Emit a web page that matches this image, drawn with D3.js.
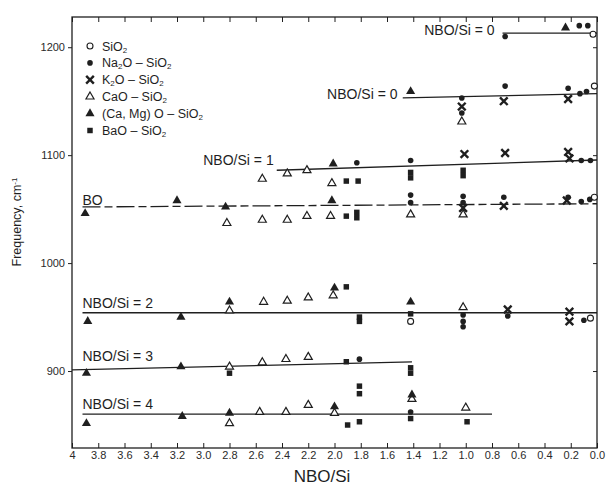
<!DOCTYPE html>
<html>
<head>
<meta charset="utf-8">
<script src="https://cdn.jsdelivr.net/npm/d3@7"></script>
<style>
body { margin: 0; background: #fff; }
svg { display: block; font-family: "Liberation Sans", Arial, Helvetica, sans-serif; }
</style>
</head>
<body>
<div id="chart"></div>
<script>

// Axis ticks
var xTickValues = [4, 3.8, 3.6, 3.4, 3.2, 3.0, 2.8, 2.6, 2.4, 2.2, 2.0, 1.8, 1.6, 1.4, 1.2, 1.0, 0.8, 0.6, 0.4, 0.2, 0];
var xTickLabels = ["4", "3.8", "3.6", "3.4", "3.2", "3.0", "2.8", "2.6", "2.4", "2.2", "2.0", "1.8", "1.6", "1.4", "1.2", "1.0", "0.8", "0.6", "0.4", "0.2", "0.0"];
var yTickValues = [900, 1000, 1100, 1200];
var yTickLabels = ["900", "1000", "1100", "1200"];

// Measured bands, [NBO/Si, frequency]
var sio2Points = [[0.03, 1212], [0.02, 1164], [0.02, 1061], [0.05, 949], [1.42, 946]];

var na2oPoints = [[0.70, 1210], [0.135, 1220], [0.07, 1220],
	[0.70, 1164], [0.22, 1162], [0.13, 1157], [0.08, 1159], [1.03, 1153], [1.03, 1139],
	[1.83, 1093], [1.42, 1095], [0.12, 1095], [0.05, 1095],
	[1.42, 1063], [1.42, 1056], [1.02, 1062], [1.02, 1056], [0.71, 1061], [0.22, 1061], [0.12, 1057], [0.055, 1059],
	[1.02, 952], [1.02, 946], [1.02, 941], [0.68, 951], [0.10, 947],
	[1.81, 911], [1.42, 862]];

var k2oPoints = [[1.03, 1145], [0.71, 1150], [0.22, 1152],
	[1.01, 1101], [0.70, 1102], [0.22, 1103], [0.21, 1097],
	[1.02, 1051], [0.71, 1053], [0.23, 1058],
	[0.68, 957], [0.21, 955], [0.21, 946]];

var caoPoints = [[1.03, 1131],
	[2.55, 1078], [2.36, 1083], [2.21, 1086], [2.02, 1074],
	[2.82, 1037], [2.55, 1040], [2.36, 1040], [2.21, 1043.5], [2.03, 1043.5], [1.42, 1045], [1.02, 1045],
	[2.80, 956], [2.54, 964], [2.36, 965], [2.20, 968], [2.01, 970], [1.02, 959],
	[2.80, 904], [2.55, 908], [2.37, 911], [2.20, 913], [1.41, 874],
	[2.80, 851.5], [2.57, 862], [2.37, 862], [2.20, 868.5], [2.00, 861], [1.00, 866]];

var camgPoints = [[0.24, 1218], [1.42, 1159], [2.01, 1092],
	[3.90, 1046], [3.20, 1058], [2.83, 1052], [2.02, 1058],
	[3.88, 946], [3.17, 950], [2.80, 964], [2.00, 977], [1.42, 964],
	[3.89, 898], [3.17, 904], [1.41, 878],
	[3.89, 851.5], [3.16, 858], [2.80, 861], [2.00, 867]];

var baoPoints = [[1.91, 1076], [1.82, 1076], [1.42, 1084], [1.42, 1079], [1.02, 1086], [1.02, 1081],
	[1.91, 1043.5], [1.83, 1047], [1.83, 1042],
	[1.91, 978], [1.81, 950], [1.81, 946], [1.42, 953],
	[2.80, 898], [1.91, 908.6], [1.42, 903], [1.42, 898], [1.81, 886], [1.81, 879],
	[1.90, 850], [1.81, 853], [1.42, 856], [0.99, 853]];

// Trend lines [x1, y1, x2, y2]
var lineQ0a = [0.72, 1213, 0, 1213];
var lineQ0b = [1.48, 1153, 0, 1157];
var lineQ1 = [2.44, 1086, 0, 1095.5];
var lineBO = [3.92, 1052, 0, 1055];
var lineQ2 = [3.92, 954, 0, 954];
var lineQ3 = [4, 901, 1.41, 908.5];
var lineQ4 = [3.92, 860, 0.80, 860];

// Line labels [text, x, y, anchor]
var lineLabels = [
	["NBO/Si = 0", 0.78, 1211, "end"],
	["NBO/Si = 0", 1.52, 1152, "end"],
	["NBO/Si = 1", 3.0, 1090.5, "start"],
	["BO", 3.92, 1054, "start"],
	["NBO/Si = 2", 3.92, 958, "start"],
	["NBO/Si = 3", 3.92, 909, "start"],
	["NBO/Si = 4", 3.92, 864.5, "start"]
];

var legendLabels = ["SiO{2}", "Na{2}O – SiO{2}", "K{2}O – SiO{2}", "CaO – SiO{2}", "(Ca, Mg) O – SiO{2}", "BaO – SiO{2}"];
var legendKinds = ["openCircle", "dot", "cross", "openTri", "tri", "square"];

var ink = "#1f1f1f";

var margin = {top: 17, right: 12, bottom: 39, left: 72};
var width = 609 - margin.left - margin.right,
	height = 487 - margin.top - margin.bottom;

var svg = d3.select("#chart").append("svg")
	.attr("width", 609)
	.attr("height", 487);

var g = svg.append("g")
	.attr("transform", "translate(" + margin.left + "," + margin.top + ")");

var x = d3.scaleLinear()
	.domain([4, 0])
	.range([0, width]);

var y = d3.scaleLinear()
	.domain([828.7, 1228])
	.range([height, 0]);

// Axes
var xAxis = d3.axisBottom(x)
	.tickValues(xTickValues)
	.tickFormat(function(d, i) { return xTickLabels[i]; })
	.tickSizeInner(-5)
	.tickSizeOuter(0)
	.tickPadding(3);

var xAxisTop = d3.axisTop(x)
	.tickValues(xTickValues)
	.tickFormat("")
	.tickSizeInner(-5)
	.tickSizeOuter(0);

var yAxis = d3.axisLeft(y)
	.tickValues(yTickValues)
	.tickFormat(function(d, i) { return yTickLabels[i]; })
	.tickSizeInner(4)
	.tickSizeOuter(0)
	.tickPadding(3);

var yAxisRight = d3.axisRight(y)
	.tickValues(yTickValues)
	.tickFormat("")
	.tickSizeInner(-4)
	.tickSizeOuter(0);

g.append("g").attr("class", "axis").attr("transform", "translate(0," + height + ")").call(xAxis);
g.append("g").attr("class", "axis").call(xAxisTop);
g.append("g").attr("class", "axis").call(yAxis);
g.append("g").attr("class", "axis").attr("transform", "translate(" + width + ",0)").call(yAxisRight);

g.selectAll(".axis .domain").remove();
g.selectAll(".axis line").attr("stroke", ink).attr("stroke-width", 1);
g.selectAll(".axis text")
	.attr("fill", "#2a2a2a")
	.style("font-size", "11px");

// Frame
g.append("rect")
	.attr("width", width)
	.attr("height", height)
	.attr("fill", "none")
	.attr("stroke", ink)
	.attr("stroke-width", 1.3);

// Trend lines
function drawLine(l, dashed) {
	var p = g.append("line")
		.attr("x1", x(l[0])).attr("y1", y(l[1]))
		.attr("x2", x(l[2])).attr("y2", y(l[3]))
		.attr("stroke", ink)
		.attr("stroke-width", 1.3);
	if (dashed) p.attr("stroke-dasharray", "18,4,8,4");
}
drawLine(lineQ0a);
drawLine(lineQ0b);
drawLine(lineQ1);
drawLine(lineBO, true);
drawLine(lineQ2);
drawLine(lineQ3);
drawLine(lineQ4);

g.selectAll(".line-label")
	.data(lineLabels)
	.enter().append("text")
	.attr("class", "line-label")
	.attr("x", function(d) { return x(d[1]); })
	.attr("y", function(d) { return y(d[2]); })
	.attr("text-anchor", function(d) { return d[3]; })
	.attr("fill", ink)
	.style("font-size", "14px")
	.text(function(d) { return d[0]; });

// Marker shapes
function addMarker(sel, kind) {
	if (kind === "dot") {
		sel.append("circle").attr("r", 2.8).attr("fill", ink);
	} else if (kind === "openCircle") {
		sel.append("circle").attr("r", 3).attr("fill", "#fff").attr("stroke", ink).attr("stroke-width", 1.1);
	} else if (kind === "cross") {
		sel.append("path").attr("d", d3.symbol().type(d3.symbolTimes).size(40)())
			.attr("fill", "none").attr("stroke", ink).attr("stroke-width", 2.4);
	} else if (kind === "openTri") {
		sel.append("path").attr("d", d3.symbol().type(d3.symbolTriangle).size(28)())
			.attr("fill", "#fff").attr("stroke", ink).attr("stroke-width", 1.2);
	} else if (kind === "tri") {
		sel.append("path").attr("d", d3.symbol().type(d3.symbolTriangle).size(36)())
			.attr("fill", ink);
	} else if (kind === "square") {
		sel.append("path").attr("d", d3.symbol().type(d3.symbolSquare).size(30)())
			.attr("fill", ink);
	}
}

function drawSeries(data, kind) {
	var pts = g.append("g").selectAll("g")
		.data(data)
		.enter().append("g")
		.attr("transform", function(d) { return "translate(" + x(d[0]) + "," + y(d[1]) + ")"; });
	pts.each(function() { addMarker(d3.select(this), kind); });
}

drawSeries(caoPoints, "openTri");
drawSeries(camgPoints, "tri");
drawSeries(baoPoints, "square");
drawSeries(na2oPoints, "dot");
drawSeries(k2oPoints, "cross");
drawSeries(sio2Points, "openCircle");

// Legend
var legend = svg.append("g").attr("transform", "translate(90,46)");

legendLabels.forEach(function(lbl, i) {
	var row = legend.append("g").attr("transform", "translate(0," + (i * 16.9) + ")");
	addMarker(row, legendKinds[i]);
	var t = row.append("text")
		.attr("x", 12)
		.attr("y", 4.5)
		.attr("fill", ink)
		.style("font-size", "12.5px");
	lbl.split(/(\{\d\})/).forEach(function(part) {
		if (!part) return;
		if (part.charAt(0) === "{") {
			t.append("tspan").attr("baseline-shift", "-25%").style("font-size", "8px").text(part.slice(1, -1));
		} else {
			t.append("tspan").text(part);
		}
	});
});

// Axis titles
var yTitle = svg.append("text")
	.attr("transform", "translate(21,222) rotate(-90)")
	.attr("text-anchor", "middle")
	.attr("fill", ink)
	.style("font-size", "12.5px");
yTitle.append("tspan").text("Frequency, cm");
yTitle.append("tspan").attr("baseline-shift", "45%").style("font-size", "8px").text("-1");

svg.append("text")
	.attr("x", 322)
	.attr("y", 482)
	.attr("text-anchor", "middle")
	.attr("fill", ink)
	.style("font-size", "17px")
	.text("NBO/Si");

</script>
</body>
</html>
